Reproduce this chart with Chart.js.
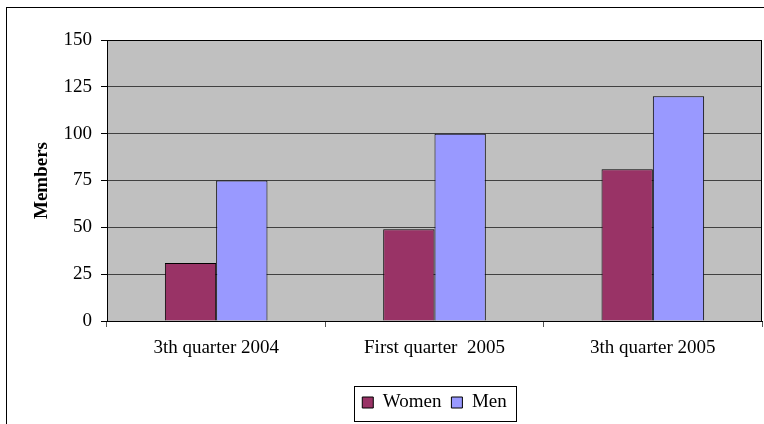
<!DOCTYPE html>
<html>
<head>
<meta charset="utf-8">
<script src="https://cdn.jsdelivr.net/npm/chart.js@4"></script>
<style>
  body { margin: 0; background: #fff; }
  canvas { display: block; }
</style>
</head>
<body>
<canvas id="myChart" width="764" height="424"></canvas>
<script>
// data
const quarters = ['3th quarter 2004', 'First quarter  2005', '3th quarter 2005'];
const women = [31, 49, 81];
const men = [75, 100, 120];
const yTicks = [0, 25, 50, 75, 100, 125, 150];

const serif = '"Liberation Serif", "Times New Roman", serif';
Chart.defaults.font.family = serif;
Chart.defaults.font.size = 19;
Chart.defaults.color = '#000';

// white page, outer frame, grey plot area and its border
const excelLook = {
    id: 'excelLook',
    afterLayout(chart) {
        // legend is centred under the plot, not the whole canvas
        const lg = chart.legend;
        lg.left = chart.chartArea.left;
        lg.right = chart.chartArea.right;
    },
    beforeDraw(chart) {
        const c = chart.ctx;
        const a = chart.chartArea;
        c.save();
        c.fillStyle = '#fff';
        c.fillRect(0, 0, chart.width, chart.height);
        c.strokeStyle = '#000';
        c.lineWidth = 1;
        c.strokeRect(6.5, 7.5, 900, 900);
        c.fillStyle = '#C0C0C0';
        c.fillRect(a.left, a.top, a.right - a.left, a.bottom - a.top);
        c.restore();
    },
    afterDatasetsDraw(chart) {
        const c = chart.ctx;
        const a = chart.chartArea;
        c.save();
        c.strokeStyle = '#000';
        c.lineWidth = 1;
        c.strokeRect(Math.round(a.left) + 0.5, Math.round(a.top) + 0.5,
            Math.round(a.right - a.left) - 1, Math.round(a.bottom - a.top));
        c.restore();
    },
    afterDraw(chart) {
        // box round the legend
        const boxes = chart.legend.legendHitBoxes;
        if (!boxes || !boxes.length) return;
        const first = boxes[0];
        const last = boxes[boxes.length - 1];
        const cy = first.top + first.height / 2;
        const c = chart.ctx;
        c.save();
        c.strokeStyle = '#000';
        c.lineWidth = 1;
        const l = Math.round(first.left - 8) + 0.5;
        const r = Math.round(last.left + last.width + 9) + 0.5;
        c.strokeRect(l, Math.round(cy - 17) + 0.5, r - l, 35);
        c.restore();
    }
};

const ctx = document.getElementById('myChart');
new Chart(ctx, {
    type: 'bar',
    data: {
        labels: quarters,
        datasets: [{
            label: 'Women',
            data: women,
            backgroundColor: '#993366',
            borderColor: '#000',
            borderWidth: 1
        }, {
            label: 'Men',
            data: men,
            backgroundColor: '#9999FF',
            borderColor: '#000',
            borderWidth: 1
        }]
    },
    options: {
        responsive: false,
        animation: false,
        layout: { padding: { top: 40, right: 2, left: 0, bottom: 2 } },
        datasets: {
            bar: { categoryPercentage: 0.47, barPercentage: 1 }
        },
        plugins: {
            legend: {
                position: 'bottom',
                labels: {
                    boxWidth: 11,
                    boxHeight: 11,
                    padding: 10,
                    font: { size: 19 }
                }
            },
            tooltip: { enabled: false }
        },
        scales: {
            x: {
                offset: true,
                grid: {
                    offset: true,
                    drawOnChartArea: false,
                    tickLength: 6,
                    tickColor: '#555'
                },
                border: { color: '#000', width: 1 },
                ticks: { padding: 10, maxRotation: 0 },
                afterFit(scale) { scale.height = 62; }
            },
            y: {
                min: 0,
                max: 150,
                afterBuildTicks(scale) {
                    scale.ticks = yTicks.map(v => ({ value: v }));
                },
                grid: {
                    color: '#404040',
                    tickColor: '#000',
                    tickLength: 6
                },
                border: { color: '#000', width: 1 },
                ticks: { padding: 9 },
                title: {
                    display: true,
                    text: 'Members',
                    font: { weight: 'bold', size: 19 },
                    padding: { top: 31, bottom: 0 }
                },
                afterFit(scale) { scale.width = 107; }
            }
        }
    },
    plugins: [excelLook]
});
</script>
</body>
</html>
